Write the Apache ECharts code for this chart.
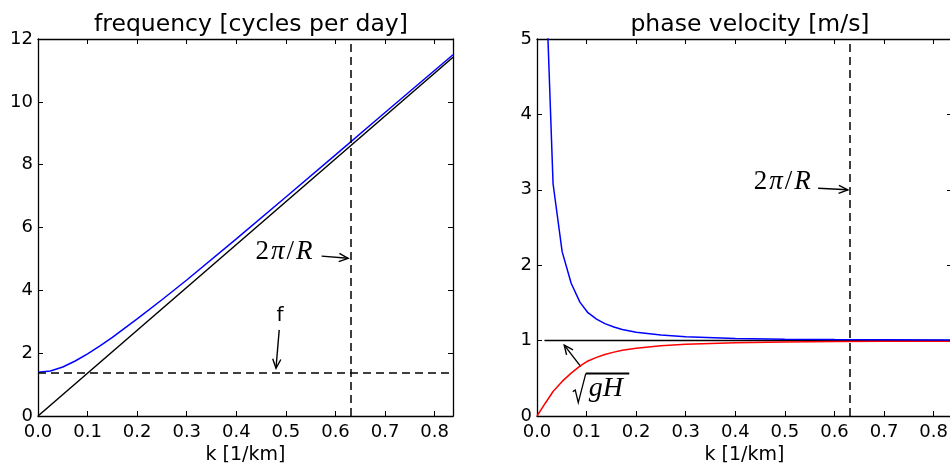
<!DOCTYPE html>
<html>
<head>
<meta charset="utf-8">
<script src="https://cdn.jsdelivr.net/npm/echarts@6/dist/echarts.min.js"></script>
<style>
  html, body { margin: 0; padding: 0; background: #fff; }
  #chart { width: 950px; height: 465px; }
</style>
</head>
<body>
<div id="chart"></div>
<script>
// left panel: frequency [cycles per day]
const kFreq = [0, 0.025, 0.05, 0.075, 0.1, 0.125, 0.15, 0.2, 0.25, 0.3, 0.4, 0.5, 0.6, 0.7, 0.837];
const freqBlue = [1.39, 1.43, 1.56, 1.75, 1.98, 2.23, 2.5, 3.09, 3.7, 4.33, 5.64, 6.97, 8.31, 9.66, 11.5];
const kLine = [0, 0.837];
const freqBlack = [0, 11.42];
const fLevel = 1.39;
const kR = 0.633;

// right panel: phase velocity [m/s]
const kPhase = [0.016, 0.0324, 0.0507, 0.0689, 0.0865, 0.1027, 0.12, 0.137, 0.155, 0.172, 0.2, 0.25, 0.3, 0.4, 0.5, 0.6, 0.7, 0.837];
const phaseBlue = [6.14, 3.08, 2.18, 1.76, 1.51, 1.37, 1.286, 1.225, 1.18, 1.148, 1.111, 1.073, 1.051, 1.029, 1.019, 1.013, 1.01, 1.007];
const kGroup = [0, 0.016, 0.0324, 0.0507, 0.0689, 0.0865, 0.1027, 0.12, 0.137, 0.155, 0.172, 0.2, 0.25, 0.3, 0.4, 0.5, 0.6, 0.7, 0.837];
const groupRed = [0, 0.163, 0.325, 0.459, 0.568, 0.662, 0.73, 0.778, 0.816, 0.847, 0.871, 0.9, 0.932, 0.951, 0.972, 0.982, 0.987, 0.99, 0.993];
const kFlat = [0.015, 0.837];
const flatBlack = [1, 1];

// annotations (data coords): arrows [x1, y1, x2, y2], labels [x, y]
const leftArrows = [[0.572, 5.09, 0.6255, 5.02], [0.4865, 2.74, 0.48, 1.52]];
const leftLabelPos = [[0.496, 5.22], [0.488, 3.2]];
const leftLabelText = ['2π/R', 'f'];
const rightArrows = [[0.567, 3.02, 0.627, 3.0], [0.0884, 0.654, 0.0549, 0.94]];
const rightLabelPos = [[0.4945, 3.1], [0.1286, 0.37]];
const rightLabelText = ['2π/R', '√gH'];

const zip = (xs, ys) => xs.map((x, i) => [x, ys[i]]);
const FONT = 'DejaVu Sans';
const SERIF = 'Liberation Serif';
const LW = 1.5;

function xFmt(v) {
  return Math.abs(v * 10 - Math.round(v * 10)) < 1e-6 ? v.toFixed(1) : '';
}

function makeAxes(gi, yMax) {
  const base = {
    gridIndex: gi, type: 'value', min: 0,
    splitLine: { show: false },
    axisLine: { show: true, onZero: false, lineStyle: { color: '#000', width: 1.3 } },
    axisTick: { show: true, inside: true, length: 5, lineStyle: { color: '#000', width: 1 } }
  };
  const xs = [
    Object.assign({}, base, {
      max: 0.837, interval: 0.1, position: 'bottom',
      name: 'k [1/km]', nameLocation: 'middle', nameGap: 26,
      nameTextStyle: { fontFamily: FONT, fontSize: 19, color: '#000', verticalAlign: 'top' },
      axisLabel: { formatter: xFmt, fontFamily: FONT, fontSize: 18, color: '#000', margin: 7, showMaxLabel: false }
    }),
    Object.assign({}, base, {
      max: 0.837, interval: 0.1, position: 'top', axisLabel: { show: false }
    })
  ];
  const ys = [
    Object.assign({}, base, {
      max: yMax, interval: yMax === 12 ? 2 : 1, position: 'left',
      axisLabel: { fontFamily: FONT, fontSize: 18, color: '#000', margin: 5 }
    }),
    Object.assign({}, base, {
      max: yMax, interval: yMax === 12 ? 2 : 1, position: 'right', axisLabel: { show: false }
    })
  ];
  return { xs, ys };
}

const A = makeAxes(0, 12);
const B = makeAxes(1, 5);

function arrowRender(params, api) {
  const p1 = api.coord([api.value(0), api.value(1)]);
  const p2 = api.coord([api.value(2), api.value(3)]);
  const ang = Math.atan2(p2[1] - p1[1], p2[0] - p1[0]);
  const h = 10, w = 0.42;
  const a1 = [p2[0] - h * Math.cos(ang - w), p2[1] - h * Math.sin(ang - w)];
  const a2 = [p2[0] - h * Math.cos(ang + w), p2[1] - h * Math.sin(ang + w)];
  return {
    type: 'group',
    children: [
      { type: 'line', shape: { x1: p1[0], y1: p1[1], x2: p2[0], y2: p2[1] }, style: { stroke: '#000', lineWidth: 1.4 } },
      { type: 'polyline', shape: { points: [a1, p2, a2] }, style: { stroke: '#000', fill: null, lineWidth: 1.4 } }
    ]
  };
}

const rich = {
  n: { fontFamily: SERIF, fontSize: 27, color: '#000', padding: [0, 1] },
  i: { fontFamily: SERIF, fontSize: 27, fontStyle: 'italic', color: '#000', padding: [0, 1] }
};

function labelRender(texts) {
  return function (params, api) {
    const p = api.coord([api.value(0), api.value(1)]);
    const t = texts[params.dataIndex];
    if (t === '2π/R') {
      return { type: 'text', x: p[0], y: p[1], style: { text: '{n|2}{i|π}{n|/}{i|R}', rich: rich, align: 'center', verticalAlign: 'middle' } };
    }
    if (t === 'f') {
      return { type: 'text', x: p[0], y: p[1], style: { text: 'f', fontFamily: FONT, fontSize: 20, fill: '#000', align: 'center', verticalAlign: 'middle' } };
    }
    // sqrt(gH)
    const x = p[0], y = p[1];
    return {
      type: 'group',
      children: [
        { type: 'polyline', shape: { points: [[x - 28, y + 3.5], [x - 25.5, y + 2], [x - 22.5, y + 14.5], [x - 15, y - 14.5]] },
          style: { stroke: '#000', fill: null, lineWidth: 1.3 } },
        { type: 'line', shape: { x1: x - 15, y1: y - 14.5, x2: x + 28.5, y2: y - 14.5 }, style: { stroke: '#000', lineWidth: 2 } },
        { type: 'text', x: x - 12, y: y + 1, style: { text: '{i|gH}', rich: { i: { fontFamily: SERIF, fontSize: 28, fontStyle: 'italic', color: '#000' } }, align: 'left', verticalAlign: 'middle' } }
      ]
    };
  };
}

const dashed = { type: [8, 5], color: '#000', width: LW };

const chart = echarts.init(document.getElementById('chart'), null, { renderer: 'canvas' });
chart.setOption({
  animation: false,
  backgroundColor: '#fff',
  title: [
    { text: 'frequency [cycles per day]', left: 246, top: 8, textAlign: 'center',
      textStyle: { fontFamily: FONT, fontSize: 23.5, fontWeight: 'normal', color: '#000' } },
    { text: 'phase velocity [m/s]', left: 745, top: 8, textAlign: 'center',
      textStyle: { fontFamily: FONT, fontSize: 23.5, fontWeight: 'normal', color: '#000' } }
  ],
  grid: [
    { left: 38, top: 39, width: 415, height: 377, outerBoundsMode: 'none', containLabel: false },
    { left: 537, top: 39, width: 415, height: 377, outerBoundsMode: 'none', containLabel: false }
  ],
  xAxis: [A.xs[0], A.xs[1], B.xs[0], B.xs[1]],
  yAxis: [A.ys[0], A.ys[1], B.ys[0], B.ys[1]],
  series: [
    { type: 'line', xAxisIndex: 0, yAxisIndex: 0, data: zip(kLine, freqBlack), showSymbol: false,
      lineStyle: { color: '#000', width: LW }, itemStyle: { color: '#000' },
      markLine: { silent: true, symbol: 'none', label: { show: false }, lineStyle: dashed,
        data: [{ xAxis: kR }, { yAxis: fLevel }] } },
    { type: 'line', xAxisIndex: 0, yAxisIndex: 0, data: zip(kFreq, freqBlue), showSymbol: false,
      lineStyle: { color: '#0000ff', width: LW }, itemStyle: { color: '#0000ff' } },
    { type: 'line', xAxisIndex: 2, yAxisIndex: 2, data: zip(kFlat, flatBlack), showSymbol: false,
      lineStyle: { color: '#000', width: LW }, itemStyle: { color: '#000' },
      markLine: { silent: true, symbol: 'none', label: { show: false }, lineStyle: dashed,
        data: [{ xAxis: kR }] } },
    { type: 'line', xAxisIndex: 2, yAxisIndex: 2, data: zip(kGroup, groupRed), showSymbol: false,
      lineStyle: { color: '#ff0000', width: LW }, itemStyle: { color: '#ff0000' } },
    { type: 'line', xAxisIndex: 2, yAxisIndex: 2, data: zip(kPhase, phaseBlue), showSymbol: false, clip: true,
      lineStyle: { color: '#0000ff', width: LW }, itemStyle: { color: '#0000ff' } },
    { type: 'custom', xAxisIndex: 0, yAxisIndex: 0, renderItem: arrowRender, data: leftArrows, clip: false,
      encode: { x: [0, 2], y: [1, 3] }, silent: true },
    { type: 'custom', xAxisIndex: 0, yAxisIndex: 0, renderItem: labelRender(leftLabelText), data: leftLabelPos, clip: false, silent: true },
    { type: 'custom', xAxisIndex: 2, yAxisIndex: 2, renderItem: arrowRender, data: rightArrows, clip: false,
      encode: { x: [0, 2], y: [1, 3] }, silent: true },
    { type: 'custom', xAxisIndex: 2, yAxisIndex: 2, renderItem: labelRender(rightLabelText), data: rightLabelPos, clip: false, silent: true }
  ]
});
</script>
</body>
</html>
